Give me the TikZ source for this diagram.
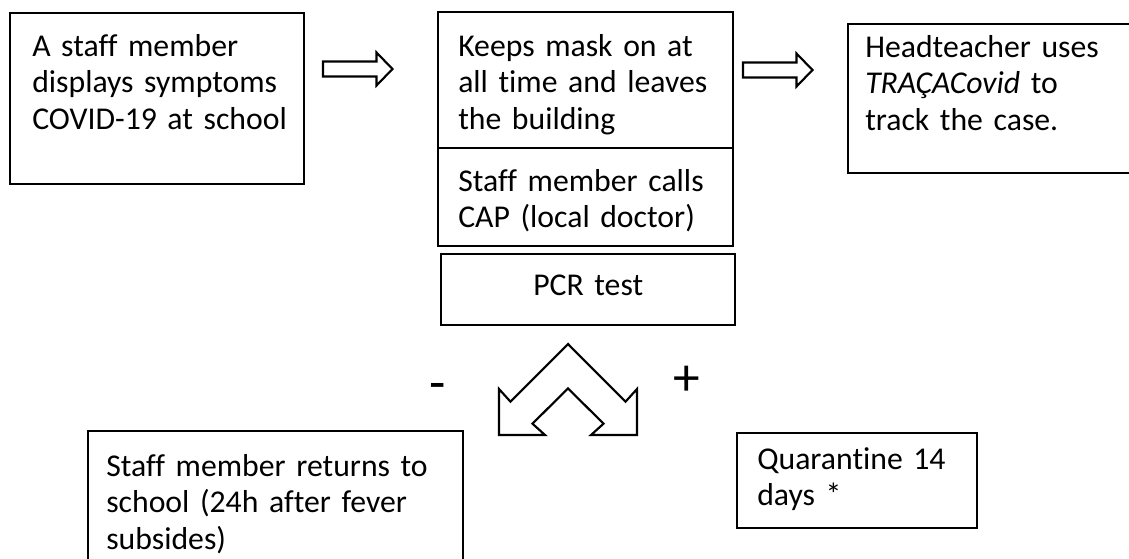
\documentclass[tikz,border=0pt]{standalone}
\usepackage{fontspec}
\setmainfont{Carlito}[Ligatures={NoCommon,NoRequired,NoContextual}]
\usetikzlibrary{fit}

\tikzset{
  flowbox/.style={draw, line width=1pt, inner sep=0pt},
  flowtext/.style={anchor=base west, inner sep=0pt, align=left, text width=#1,
                   font=\fontsize{23.8}{27.4}\selectfont},
  flowtext/.default=250pt,
  signtext/.style={anchor=base, inner sep=0pt, font=\fontsize{40}{48}\selectfont},
  blockarrow/.pic={
    \draw[line width=1.6pt, line join=miter]
      (0,-7.5) -- (53.5,-7.5) -- (53.5,-16.5) -- (69.5,0) -- (53.5,16.5) -- (53.5,7.5) -- (0,7.5) -- cycle;
  }
}

\begin{document}
\begin{tikzpicture}[x=0.75pt, y=-0.75pt]

  \useasboundingbox (0,0) rectangle (1129,558);
  \clip (0,0) rectangle (1129,558);

  % boxes
  \node[flowbox, fit={(10,13) (304,184)}] (symptoms) {};
  \node[flowbox, fit={(438,12) (733,148)}] (mask) {};
  \node[flowbox, fit={(438,148) (733,246)}] (calls) {};
  \node[flowbox, fit={(441,254) (735,325)}] (pcr) {};
  \node[flowbox, fit={(848,24) (1140,173)}] (head) {};
  \node[flowbox, fit={(88,431) (463,600)}] (returns) {};
  \node[flowbox, fit={(737,433) (977,528)}] (quarantine) {};

  % texts
  \node[flowtext] (symptoms text) at (32,56) {A staff member\\displays symptoms\\COVID-19 at school};
  \node[flowtext] (mask text) at (458,56) {Keeps mask on at\\all time and leaves\\the building};
  \node[flowtext] (calls text) at (458,191) {Staff member calls\\CAP (local doctor)};
  \node[flowtext] (pcr text) at (533,295) {PCR test};
  \node[flowtext] (head text) at (865,57) {Headteacher uses\\\textit{TRAÇACovid} to\\track the case.};
  \node[flowtext] (returns text) at (106,476) {Staff member returns to\\school (24h after fever\\subsides)};
  \node[flowtext] (quarantine text) at (757,469) {Quarantine 14\\days *};

  % arrows
  \pic at (323,69) {blockarrow};
  \pic at (743,70) {blockarrow};

  \draw[line width=1.6pt, line join=miter]
    (568,344) -- (625.5,401.7) -- (637,389) -- (637,435) -- (591,435) -- (603.5,423.7)
    -- (568,388.3) -- (532.5,423.7) -- (545,435) -- (499,435) -- (499,389) -- (510.5,401.7) -- cycle;

  \node[signtext] (minus) at (438,400) {-};
  \node[signtext] (plus) at (687,395) {+};

\end{tikzpicture}
\end{document}
